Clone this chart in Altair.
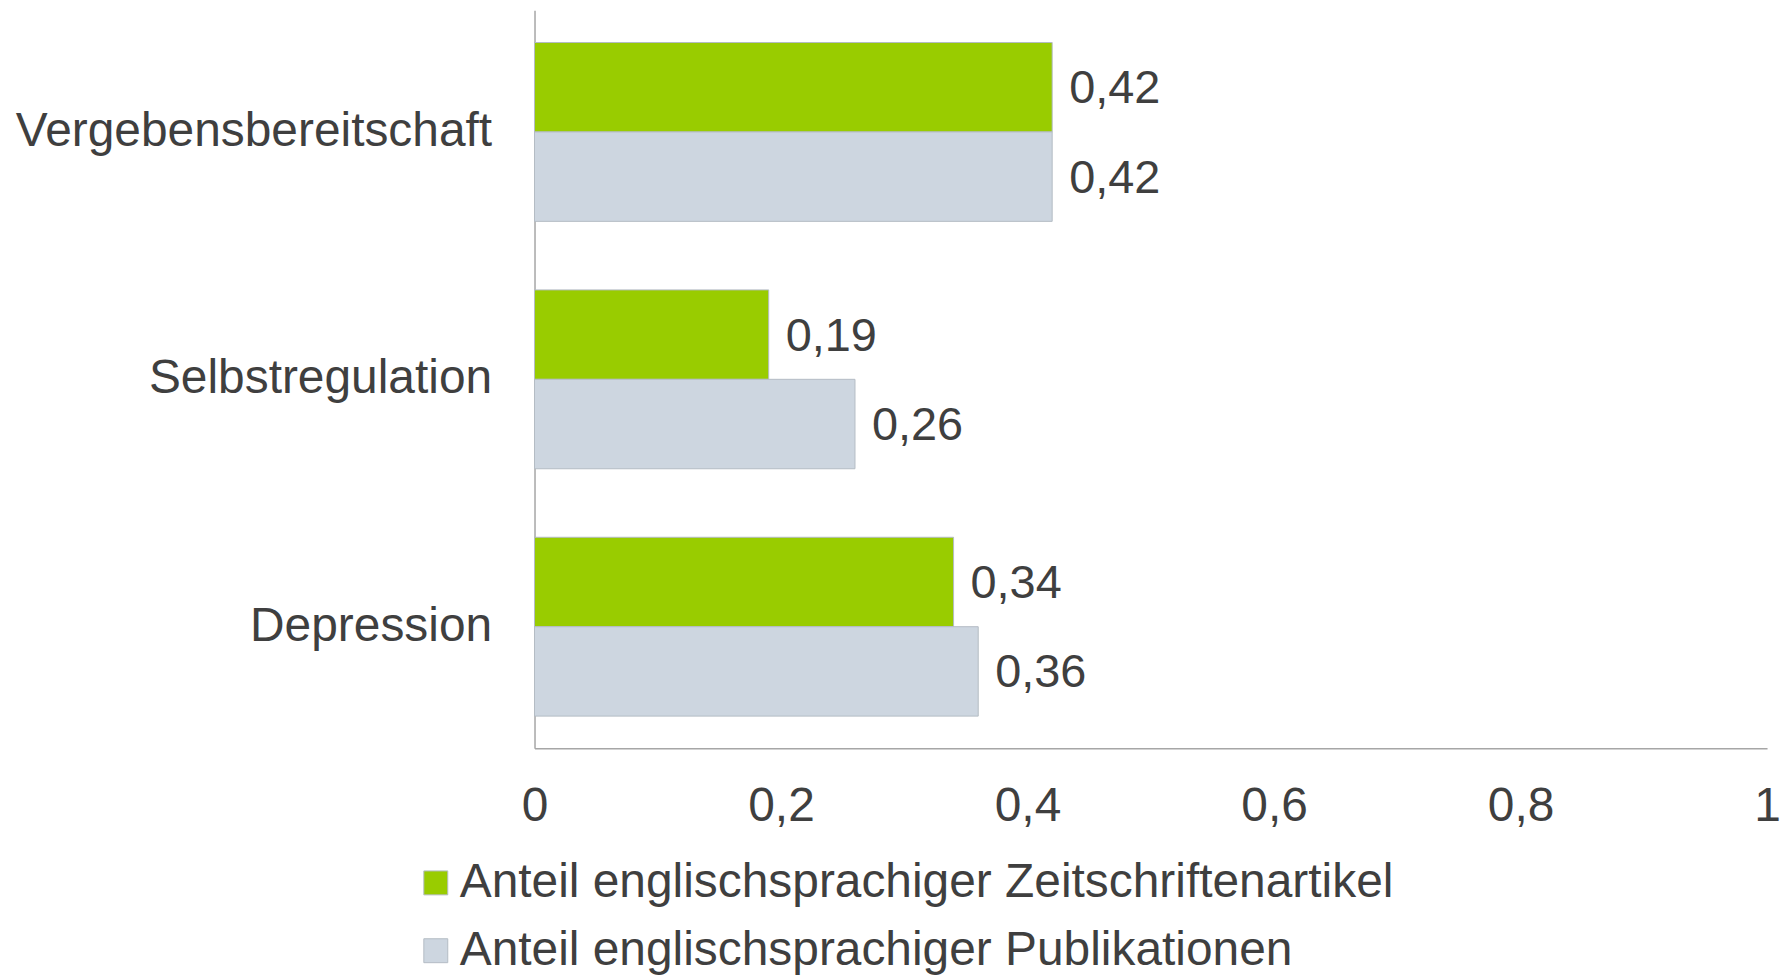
import altair as alt
import pandas as pd

categories = ["Vergebensbereitschaft", "Selbstregulation", "Depression"]
series = [
    "Anteil englischsprachiger Zeitschriftenartikel",
    "Anteil englischsprachiger Publikationen",
]
zeitschriftenartikel = [0.42, 0.19, 0.34]
publikationen = [0.42, 0.26, 0.36]
x_ticks = [0, 0.2, 0.4, 0.6, 0.8, 1]

rows = []
for c, a, b in zip(categories, zeitschriftenartikel, publikationen):
    rows.append({"Kategorie": c, "Serie": series[0], "Wert": a})
    rows.append({"Kategorie": c, "Serie": series[1], "Wert": b})
df = pd.DataFrame(rows)

GREEN = "#99CC00"
GRAY = "#CDD6E0"
EDGE = "#B4BCC4"
TEXT = "#3F3F3F"
AXIS = "#A6A6A6"
FONT = "Liberation Sans"

base = alt.Chart(df).encode(
    y=alt.Y(
        "Kategorie:N",
        sort=categories,
        scale=alt.Scale(paddingInner=0.277, paddingOuter=0.13),
        axis=alt.Axis(
            title=None, ticks=False, labelFontSize=48, labelPadding=43,
            labelLimit=1000, labelColor=TEXT, labelFont=FONT,
            domainColor=AXIS, domainWidth=1.5,
        ),
    ),
    yOffset=alt.YOffset("Serie:N", sort=series,
                        scale=alt.Scale(paddingInner=0, paddingOuter=0)),
    x=alt.X(
        "Wert:Q",
        scale=alt.Scale(domain=[0, 1], nice=False),
        axis=alt.Axis(
            title=None, ticks=False, grid=False, values=x_ticks,
            labelExpr="replace(format(datum.value, '~g'), '.', ',')",
            labelFontSize=48, labelPadding=34, labelColor=TEXT, labelFont=FONT,
            domainColor=AXIS, domainWidth=1.5, labelFlush=False,
        ),
    ),
)

bars = base.mark_bar(stroke=EDGE, strokeWidth=1).encode(
    color=alt.Color(
        "Serie:N",
        sort=series,
        scale=alt.Scale(domain=series, range=[GREEN, GRAY]),
        legend=alt.Legend(
            title=None, orient="none", legendX=-123, legendY=851,
            direction="vertical", symbolType="square", symbolSize=576,
            symbolStrokeWidth=1, symbolStrokeColor=EDGE,
            labelFontSize=48, labelFont=FONT,
            labelColor=TEXT, labelOffset=0, rowPadding=20, padding=0,
            labelLimit=2000,
        ),
    ),
)

labels = base.transform_calculate(
    Label="replace(format(datum.Wert, '.2f'), '.', ',')"
).mark_text(
    align="left", baseline="middle", dx=17, dy=2, fontSize=47, font=FONT, color=TEXT
).encode(text="Label:N")

chart = (
    alt.layer(bars, labels)
    .properties(width=1236, height=740,
                padding={"left": 7, "top": 1, "right": 0, "bottom": 0})
    .configure(background="white")
    .configure_view(stroke=None, strokeWidth=0)
)

chart.save("out.html", embed_options={"renderer": "svg", "actions": False})
